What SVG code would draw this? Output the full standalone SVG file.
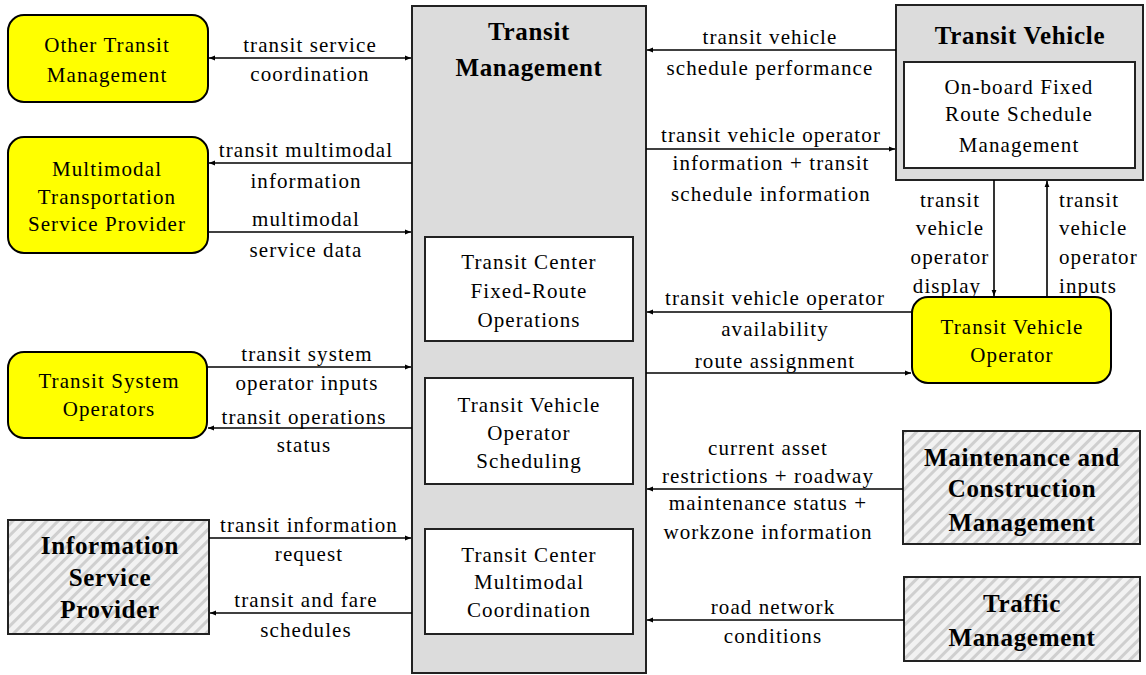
<svg xmlns="http://www.w3.org/2000/svg" width="1146" height="675" viewBox="0 0 1146 675">
<style>
text{font-family:"Liberation Serif","Times New Roman",serif;fill:#000;text-anchor:middle}
.t{font-size:21px;letter-spacing:1.1px}
.b{font-size:25px;font-weight:bold;letter-spacing:0.7px}
.yel{fill:#ffff00;stroke:#000;stroke-width:2}
.gray{fill:#dcdcdc;stroke:#222;stroke-width:2}
.white{fill:#fff;stroke:#222;stroke-width:2}
.hatch{fill:url(#hp);stroke:#222;stroke-width:2}
.c{fill:none;stroke:#000;stroke-width:1.6}
</style>
<defs>
<pattern id="hp" patternUnits="userSpaceOnUse" width="8" height="8" patternTransform="rotate(45)">
<rect width="8" height="8" fill="#f2f2f2"/>
<rect x="0" y="0" width="3" height="8" fill="#cfcfcf"/>
</pattern>
<marker id="ah" viewBox="0 0 10 10" refX="10" refY="5" markerWidth="6" markerHeight="6" orient="auto-start-reverse" markerUnits="userSpaceOnUse">
<path d="M0,1 L10,5 L0,9 z" fill="#000"/>
</marker>
</defs>
<rect width="1146" height="675" fill="#fff"/>

<g id="transit-management">
<rect class="gray" x="412" y="6" width="234" height="667"/>
<text class="b" x="529" y="40">Transit</text>
<text class="b" x="529" y="76">Management</text>
</g>
<g id="tc-fixed-route">
<rect class="white" x="425" y="237" width="208" height="104"/>
<text class="t" x="529" y="269">Transit Center</text>
<text class="t" x="529" y="298">Fixed-Route</text>
<text class="t" x="529" y="327">Operations</text>
</g>
<g id="tv-operator-scheduling">
<rect class="white" x="425" y="378" width="208" height="106"/>
<text class="t" x="529" y="412">Transit Vehicle</text>
<text class="t" x="529" y="440">Operator</text>
<text class="t" x="529" y="468">Scheduling</text>
</g>
<g id="tc-multimodal">
<rect class="white" x="425" y="529" width="208" height="105"/>
<text class="t" x="529" y="562">Transit Center</text>
<text class="t" x="529" y="589">Multimodal</text>
<text class="t" x="529" y="617">Coordination</text>
</g>

<g id="other-transit-management">
<rect class="yel" x="8" y="15" width="200" height="87" rx="16"/>
<text class="t" x="107" y="52">Other Transit</text>
<text class="t" x="107" y="82">Management</text>
</g>
<g id="multimodal-tsp">
<rect class="yel" x="8" y="137" width="200" height="116" rx="16"/>
<text class="t" x="107" y="176">Multimodal</text>
<text class="t" x="107" y="204">Transportation</text>
<text class="t" x="107" y="231">Service Provider</text>
</g>
<g id="transit-system-operators">
<rect class="yel" x="8" y="352" width="199" height="86" rx="16"/>
<text class="t" x="109" y="388">Transit System</text>
<text class="t" x="109" y="416">Operators</text>
</g>
<g id="information-service-provider">
<rect class="hatch" x="8" y="520" width="201" height="114"/>
<text class="b" x="110" y="554">Information</text>
<text class="b" x="110" y="586">Service</text>
<text class="b" x="110" y="618">Provider</text>
</g>

<g id="transit-vehicle">
<rect class="gray" x="896" y="5" width="247" height="175"/>
<text class="b" x="1020" y="44">Transit Vehicle</text>
<rect class="white" x="904" y="62" width="231" height="106"/>
<text class="t" x="1019" y="94">On-board Fixed</text>
<text class="t" x="1019" y="121">Route Schedule</text>
<text class="t" x="1019" y="152">Management</text>
</g>
<g id="transit-vehicle-operator">
<rect class="yel" x="912" y="297" width="199" height="86" rx="16"/>
<text class="t" x="1012" y="334">Transit Vehicle</text>
<text class="t" x="1012" y="362">Operator</text>
</g>
<g id="maintenance-construction">
<rect class="hatch" x="903" y="431" width="237" height="113"/>
<text class="b" x="1022" y="466">Maintenance and</text>
<text class="b" x="1022" y="497">Construction</text>
<text class="b" x="1022" y="531">Management</text>
</g>
<g id="traffic-management">
<rect class="hatch" x="904" y="577" width="236" height="84"/>
<text class="b" x="1022" y="612">Traffic</text>
<text class="b" x="1022" y="646">Management</text>
</g>

<g id="connectors">
<line class="c" x1="209" y1="58" x2="411" y2="58" marker-start="url(#ah)" marker-end="url(#ah)"/>
<line class="c" x1="412" y1="163" x2="209" y2="163" marker-end="url(#ah)"/>
<line class="c" x1="208" y1="232" x2="411" y2="232" marker-end="url(#ah)"/>
<line class="c" x1="207" y1="367" x2="411" y2="367" marker-end="url(#ah)"/>
<line class="c" x1="412" y1="428" x2="208" y2="428" marker-end="url(#ah)"/>
<line class="c" x1="209" y1="538" x2="411" y2="538" marker-end="url(#ah)"/>
<line class="c" x1="412" y1="613" x2="210" y2="613" marker-end="url(#ah)"/>
<line class="c" x1="896" y1="50" x2="647" y2="50" marker-end="url(#ah)"/>
<line class="c" x1="646" y1="149" x2="895" y2="149" marker-end="url(#ah)"/>
<line class="c" x1="994" y1="180" x2="994" y2="296" marker-end="url(#ah)"/>
<line class="c" x1="1047" y1="297" x2="1047" y2="181" marker-end="url(#ah)"/>
<line class="c" x1="912" y1="312" x2="647" y2="312" marker-end="url(#ah)"/>
<line class="c" x1="646" y1="373" x2="911" y2="373" marker-end="url(#ah)"/>
<line class="c" x1="903" y1="489" x2="647" y2="489" marker-end="url(#ah)"/>
<line class="c" x1="904" y1="620" x2="647" y2="620" marker-end="url(#ah)"/>

<text class="t" x="310" y="52">transit service</text>
<text class="t" x="310" y="81">coordination</text>
<text class="t" x="306" y="157">transit multimodal</text>
<text class="t" x="306" y="188">information</text>
<text class="t" x="306" y="226">multimodal</text>
<text class="t" x="306" y="257">service data</text>
<text class="t" x="307" y="361">transit system</text>
<text class="t" x="307" y="390">operator inputs</text>
<text class="t" x="304" y="424">transit operations</text>
<text class="t" x="304" y="452">status</text>
<text class="t" x="309" y="532">transit information</text>
<text class="t" x="309" y="561">request</text>
<text class="t" x="306" y="607">transit and fare</text>
<text class="t" x="306" y="637">schedules</text>

<text class="t" x="770" y="44">transit vehicle</text>
<text class="t" x="770" y="75">schedule performance</text>
<text class="t" x="771" y="142">transit vehicle operator</text>
<text class="t" x="771" y="170">information + transit</text>
<text class="t" x="771" y="201">schedule information</text>
<text class="t" x="950" y="207">transit</text>
<text class="t" x="950" y="235">vehicle</text>
<text class="t" x="950" y="264">operator</text>
<text class="t" x="947" y="293">display</text>
<text class="t" x="1059" y="207" style="text-anchor:start">transit</text>
<text class="t" x="1059" y="235" style="text-anchor:start">vehicle</text>
<text class="t" x="1059" y="264" style="text-anchor:start">operator</text>
<text class="t" x="1059" y="293" style="text-anchor:start">inputs</text>
<text class="t" x="775" y="305">transit vehicle operator</text>
<text class="t" x="775" y="336">availability</text>
<text class="t" x="775" y="368">route assignment</text>
<text class="t" x="768" y="455">current asset</text>
<text class="t" x="768" y="483">restrictions + roadway</text>
<text class="t" x="768" y="510">maintenance status +</text>
<text class="t" x="768" y="539">workzone information</text>
<text class="t" x="773" y="614">road network</text>
<text class="t" x="773" y="643">conditions</text>
</g>
</svg>
